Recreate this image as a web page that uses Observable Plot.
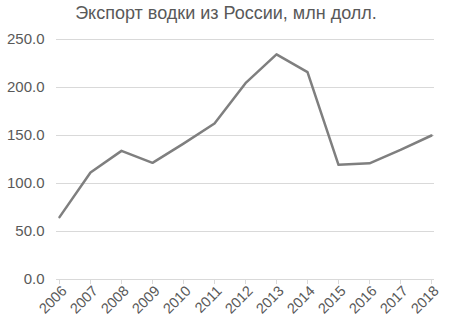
<!DOCTYPE html>
<html>
<head>
<meta charset="utf-8">
<script src="https://cdn.jsdelivr.net/npm/d3@7"></script>
<script src="https://cdn.jsdelivr.net/npm/@observablehq/plot@0.6"></script>
<style>
  html, body { margin: 0; padding: 0; background: #fff; }
  #wrap { width: 450px; height: 331px; overflow: hidden; font-family: "Liberation Sans", Arial, sans-serif; }
  #title { height: 28px; line-height: 27px; text-align: center; font-size: 18px; color: #595959; padding-left: 2px; }
</style>
</head>
<body>
<div id="wrap">
  <div id="title">Экспорт водки из России, млн долл.</div>
  <div id="chart"></div>
</div>
<script>
const years = ["2006","2007","2008","2009","2010","2011","2012","2013","2014","2015","2016","2017","2018"];
const values = [65, 111.5, 134, 121.5, 141.5, 162.5, 204.5, 234.5, 216, 119.5, 121, 135, 150];
const yTicks = [0, 50, 100, 150, 200, 250];

const data = years.map((year, i) => ({year, value: values[i]}));

const chart = Plot.plot({
  width: 450,
  height: 303,
  marginTop: 11,
  marginBottom: 52,
  marginLeft: 56,
  marginRight: 16,
  style: { fontFamily: "'Liberation Sans', Arial, sans-serif", fontSize: "15px", color: "#595959", background: "#fff" },
  x: { type: "point", domain: years, padding: 0 },
  y: { domain: [0, 250] },
  marks: [
    Plot.ruleY(yTicks, { stroke: "#d9d9d9", strokeWidth: 1 }),
    Plot.axisY({ ticks: yTicks, tickSize: 0, tickPadding: 12, tickFormat: d => d.toFixed(1), label: null, fill: "#595959" }),
    Plot.axisX({ tickSize: 5, stroke: "#d9d9d9", text: null, label: null }),
    Plot.text(years, { x: d => d, y: () => 0, text: d => d, rotate: -45, textAnchor: "end", lineAnchor: "middle", dx: 5, dy: 9, fill: "#595959", fontSize: 14.5 }),
    Plot.line(data, { x: "year", y: "value", stroke: "#7f7f7f", strokeWidth: 2.5 })
  ]
});
document.getElementById("chart").appendChild(chart);
</script>
</body>
</html>
